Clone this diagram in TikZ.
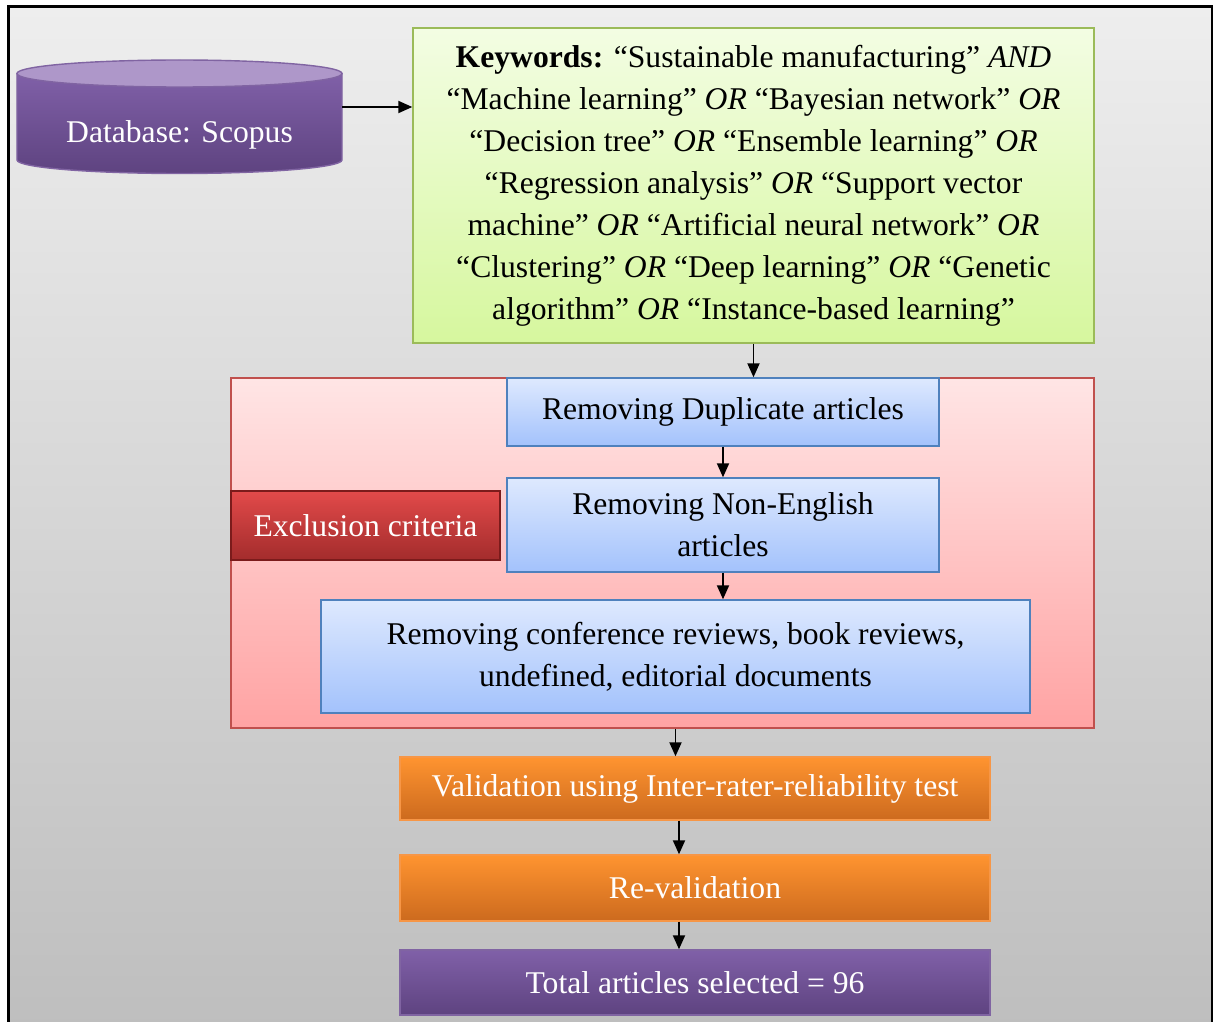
\documentclass[tikz,border=0pt]{standalone}
\usepackage{fontspec}
\setmainfont{Liberation Serif}
\usetikzlibrary{arrows.meta,positioning}

\definecolor{bgtop}{HTML}{EEEEEE}
\definecolor{bgbot}{HTML}{BDBDBD}
\definecolor{kwtop}{HTML}{F3FDE3}
\definecolor{kwbot}{HTML}{D6F79E}
\definecolor{kwline}{HTML}{9BBB59}
\definecolor{extop}{HTML}{FFE5E5}
\definecolor{exbot}{HTML}{FFA3A3}
\definecolor{exline}{HTML}{C0504D}
\definecolor{bluetop}{HTML}{DEE9FE}
\definecolor{bluebot}{HTML}{A3C2FC}
\definecolor{blueline}{HTML}{4F81BD}
\definecolor{crittop}{HTML}{E24A4A}
\definecolor{critbot}{HTML}{A32C2C}
\definecolor{critline}{HTML}{7B1B1B}
\definecolor{orangetop}{HTML}{FF9430}
\definecolor{orangebot}{HTML}{CC6A1E}
\definecolor{orangeline}{HTML}{F79646}
\definecolor{purpletop}{HTML}{8060A8}
\definecolor{purplebot}{HTML}{5E4380}
\definecolor{purpleline}{HTML}{8064A2}
\definecolor{dbcap}{HTML}{AE97C9}

\begin{document}
\begin{tikzpicture}[>={Triangle[length=0.28cm,width=0.24cm]},
        every node/.style={font=\fontsize{18}{23.9}\selectfont},
        box/.style={draw,line width=0.8pt,align=center,inner sep=0pt},
        bluebox/.style={box,draw=blueline,top color=bluetop,bottom color=bluebot},
        orangebox/.style={box,draw=orangeline,top color=orangetop,
              bottom color=orangebot,text=white},
        link/.style={->,line width=1.1pt}]
        \clip (0,0) rectangle (24.32,-20.44);
        \draw[line width=1.3pt,top color=bgtop,bottom color=bgbot]
              (0.17,-0.13) rectangle (24.24,-21);

        % database cylinder
        \shade[top color=purpletop,bottom color=purplebot,draw=purpleline,
              line width=0.8pt] (0.34,-1.47) -- (0.34,-3.2)
              arc[start angle=180,end angle=360,x radius=3.25,y radius=0.27]
              -- (6.84,-1.47) -- cycle;
        \filldraw[fill=dbcap,draw=purpleline,line width=0.8pt]
              (3.59,-1.47) ellipse[x radius=3.25,y radius=0.27];
        \node[text=white] (db) at (3.59,-2.7) {Database: Scopus};
        \coordinate (dbout) at (6.84,-2.14);

        \node[box,draw=kwline,top color=kwtop,bottom color=kwbot,
              minimum width=13.62cm,minimum height=6.3cm] (kw) at (15.07,-3.71)
              {\textbf{Keywords:} “Sustainable manufacturing” \textit{AND}\\
               “Machine learning” \textit{OR} “Bayesian network” \textit{OR}\\
               “Decision tree” \textit{OR} “Ensemble learning” \textit{OR}\\
               “Regression analysis” \textit{OR} “Support vector\\
               machine” \textit{OR} “Artificial neural network” \textit{OR}\\
               “Clustering” \textit{OR} “Deep learning” \textit{OR} “Genetic\\
               algorithm” \textit{OR} “Instance-based learning”};

        \node[box,draw=exline,top color=extop,bottom color=exbot,
              minimum width=17.26cm,minimum height=7cm] (excl) at (13.25,-11.06) {};
        \node[bluebox,minimum width=8.64cm,minimum height=1.36cm] (dup)
              at (14.46,-8.24) {Removing Duplicate articles};
        \node[bluebox,minimum width=8.64cm,minimum height=1.88cm] (noneng)
              at (14.46,-10.5) {Removing Non-English\\articles};
        \node[bluebox,minimum width=14.18cm,minimum height=2.26cm] (conf)
              at (13.51,-13.13)
              {Removing conference reviews, book reviews,\\
               undefined, editorial documents};
        \node[box,draw=critline,top color=crittop,bottom color=critbot,text=white,
              minimum width=5.38cm,minimum height=1.38cm] (crit)
              at (7.31,-10.51) {Exclusion criteria};

        \node[orangebox,minimum width=11.8cm,minimum height=1.26cm] (val)
              at (13.9,-15.77) {Validation using Inter-rater-reliability test};
        \node[orangebox,minimum width=11.8cm,minimum height=1.32cm] (reval)
              at (13.9,-17.76) {Re-validation};
        \node[box,draw=purpleline,top color=purpletop,bottom color=purplebot,
              text=white,minimum width=11.8cm,minimum height=1.3cm] (total)
              at (13.9,-19.65) {Total articles selected = 96};

        \draw[link] (dbout) -- (dbout -| kw.west);
        \draw[link] (kw.south) -- (kw.south |- dup.north);
        \draw[link] (dup) -- (noneng);
        \draw[link] (noneng.south) -- (noneng.south |- conf.north);
        \draw[link] (conf.south |- excl.south) -- (conf.south |- val.north);
        \draw[link] ([xshift=-0.32cm]val.south) -- ([xshift=-0.32cm]reval.north);
        \draw[link] ([xshift=-0.32cm]reval.south) -- ([xshift=-0.32cm]total.north);
    \end{tikzpicture}
\end{document}
